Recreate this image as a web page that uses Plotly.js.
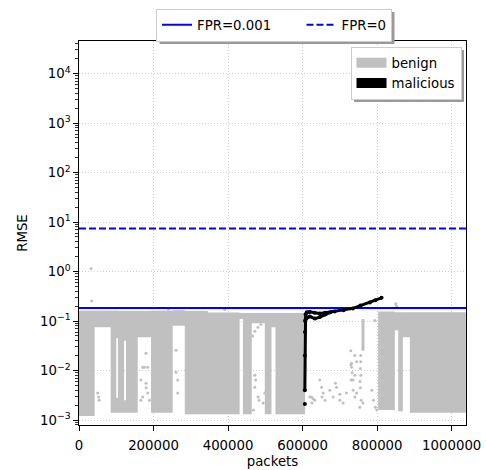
<!DOCTYPE html>
<html><head><meta charset="utf-8">
<script src="https://cdn.plot.ly/plotly-3.0.1.min.js"></script>
<style>body{margin:0;background:#fff}</style></head>
<body><div id="chart" style="width:486px;height:470px"></div>
<script>
// Benign RMSE envelope: packet range and RMSE low/high of each dense block
const benignX0 = [0, 42000, 85000, 100000, 100000, 104500, 121000, 121000, 126000, 157600, 193300, 251500, 283800, 345500, 431000, 440000, 463600, 498500, 516500, 527200, 758000, 802700, 847500, 856400, 869000, 887800];
const benignX1 = [42000, 85000, 100000, 104500, 104500, 121000, 126000, 126000, 157600, 193300, 251500, 283800, 345500, 431000, 440000, 463600, 498500, 516500, 527200, 606500, 766000, 847500, 856400, 869000, 887800, 1038000];
const benignLo = [0.0012, 0.075, 0.0014, 0.045, 0.0014, 0.0014, 0.04, 0.0014, 0.0014, 0.047, 0.0014, 0.08, 0.0013, 0.0013, 0.11, 0.0013, 0.09, 0.0013, 0.075, 0.0013, 0.025, 0.0016, 0.065, 0.0015, 0.047, 0.0014];
const benignHi = [0.162, 0.162, 0.162, 0.162, 0.0028, 0.16, 0.16, 0.0025, 0.16, 0.16, 0.162, 0.165, 0.16, 0.148, 0.145, 0.145, 0.145, 0.145, 0.145, 0.145, 0.11, 0.155, 0.15, 0.15, 0.15, 0.15];

// Isolated benign points
const sparseX = [32200, 34100, 50200, 52900, 54000,
  179900, 171000, 176000, 184400, 166400, 179900, 180000, 184400, 171000, 189000, 166000,
  260400, 260400, 265000, 265000,
  466000, 472000, 480000, 488000, 471700, 474000, 471700, 480500, 483000, 494000, 498500, 468000,
  619300, 623900, 628200, 632700, 625000, 646200, 650700, 655000, 652000, 660000, 673000, 681900, 688000, 691000, 699900, 700000, 708700, 717800,
  729400, 729400, 730000, 731300, 731300, 733000, 735600, 735600, 740100, 740100, 745000, 740000, 745000,
  756000, 756000, 755000, 756000, 754000, 755000, 753500, 757000, 762000,
  785800, 790000, 793800, 795000, 799200, 850000, 852000, 391000, 240000];
const sparseY = [1.15, 0.253, 0.0035, 0.0029, 0.0025,
  0.0223, 0.0117, 0.0117, 0.0117, 0.0064, 0.0055, 0.0045, 0.0035, 0.0029, 0.0025, 0.0025,
  0.0256, 0.0092, 0.0064, 0.0035,
  0.05, 0.062, 0.075, 0.085, 0.008, 0.0064, 0.0046, 0.0029, 0.0025, 0.0022, 0.0035, 0.0016,
  0.0029, 0.0029, 0.0027, 0.0025, 0.0022, 0.0064, 0.0046, 0.0035, 0.0029, 0.0025, 0.004, 0.0029, 0.0055, 0.0046, 0.0025, 0.0033, 0.0022, 0.0035,
  0.025, 0.013, 0.0064, 0.014, 0.0117, 0.009, 0.0064, 0.004, 0.008, 0.0029, 0.0035, 0.02, 0.015,
  0.02, 0.015, 0.011, 0.008, 0.006, 0.0045, 0.0018, 0.0025, 0.0022,
  0.004, 0.0025, 0.103, 0.0018, 0.0016, 0.224, 0.2, 0.17, 0.175];

// Malicious RMSE trace (null = break between strands)
const malX = [606000, null,
  606000, 606000, 606300, 606700, 608000, 611000, 619000, 632000, 646000, 660000, 686000, 710000, 734800, 755000, 780400, 795000, 811800, null,
  607500, 613000, 619300, 632700, 646200, 659600, 675000];
const malY = [0.0021, null,
  0.004, 0.02, 0.06, 0.10, 0.135, 0.150, 0.153, 0.147, 0.142, 0.147, 0.156, 0.165, 0.180, 0.205, 0.238, 0.262, 0.294, null,
  0.105, 0.118, 0.124, 0.112, 0.120, 0.135, 0.150];

// Thresholds
const fprLabels = ['FPR=0.001', 'FPR=0'];
const fprValues = [0.183, 7.4];
const fprDash = ['solid', '7px,3px'];

const xMax = 1038400;
const xTickVals = [0, 200000, 400000, 600000, 800000, 1000000];
const xTickText = ['0', '200000', '400000', '600000', '800000', '1000000'];
const yTickVals = [0.001, 0.01, 0.1, 1, 10, 100, 1000, 10000];
const yTickText = ['10<sup>−3</sup>', '10<sup>−2</sup>', '10<sup>−1</sup>', '10<sup>0</sup>', '10<sup>1</sup>', '10<sup>2</sup>', '10<sup>3</sup>', '10<sup>4</sup>'];

const GRAY = '#c0c0c0';
const FONT = 'DejaVu Sans';

const polyX = [], polyY = [];
for (let i = 0; i < benignX0.length; i++) {
  polyX.push(benignX0[i], benignX1[i], benignX1[i], benignX0[i], benignX0[i], null);
  polyY.push(benignLo[i], benignLo[i], benignHi[i], benignHi[i], benignLo[i], null);
}

const traces = [
  {x: polyX, y: polyY, type: 'scatter', mode: 'lines', fill: 'toself', fillcolor: GRAY,
   line: {width: 0, color: GRAY}, showlegend: false, hoverinfo: 'skip'},
  {x: sparseX, y: sparseY, type: 'scatter', mode: 'markers',
   marker: {size: 3, color: GRAY}, showlegend: false, hoverinfo: 'skip'}
];
// pad the first entry so the two horizontal entries are spaced like the original
const fprPad = ['\u00a0'.repeat(6), ''];
fprValues.forEach((v, i) => {
  traces.push({x: [0, xMax], y: [v, v], type: 'scatter', mode: 'lines', name: fprLabels[i] + fprPad[i],
    line: {color: '#0000ff', width: 2, dash: fprDash[i]}, legend: 'legend'});
});
traces.push({x: malX, y: malY, type: 'scatter', mode: 'lines+markers',
  line: {color: '#000', width: 3}, marker: {size: 4, color: '#000'}, showlegend: false});
traces.push({x: [null], y: [null], type: 'scatter', mode: 'lines', name: 'benign',
  line: {color: GRAY, width: 10}, legend: 'legend2'});
traces.push({x: [null], y: [null], type: 'scatter', mode: 'lines', name: 'malicious',
  line: {color: '#000', width: 10}, legend: 'legend2'});

const axisCommon = {
  showline: true, linecolor: '#000', linewidth: 1, mirror: true,
  ticks: 'outside', ticklen: 4.7, tickwidth: 1, tickcolor: '#000',
  showgrid: true, gridcolor: '#cfcfcf', griddash: '1px,2px', gridwidth: 1,
  zeroline: false, tickfont: {family: FONT, size: 13.3, color: '#000'}
};

const layout = {
  width: 486, height: 470,
  margin: {l: 79, r: 20, t: 41, b: 45, autoexpand: false},
  paper_bgcolor: '#fff', plot_bgcolor: '#fff',
  font: {family: FONT, size: 13.3, color: '#000'},
  xaxis: Object.assign({}, axisCommon, {
    range: [0, xMax], tickmode: 'array', tickvals: xTickVals, ticktext: xTickText,
    ticklabelstandoff: 3, automargin: false,
    title: {text: 'packets', font: {family: FONT, size: 13.3}, standoff: 5}
  }),
  yaxis: Object.assign({}, axisCommon, {
    type: 'log', range: [-3.101, 4.658], tickmode: 'array', tickvals: yTickVals, ticktext: yTickText,
    automargin: false,
    minor: {dtick: 'D1', ticks: 'outside', ticklen: 2.7, tickcolor: '#000', tickwidth: 0.8, showgrid: false},
    title: {text: 'RMSE', font: {family: FONT, size: 13.3}, standoff: 9}
  }),
  legend: {orientation: 'h', x: 0.5, xanchor: 'center', y: 1.09, yanchor: 'top',
    bgcolor: '#fff', bordercolor: '#cccccc', borderwidth: 1,
    font: {family: FONT, size: 13.3}},
  legend2: {orientation: 'v', x: 0.987, xanchor: 'right', y: 0.99, yanchor: 'top',
    bgcolor: '#fff', bordercolor: '#cccccc', borderwidth: 1,
    font: {family: FONT, size: 13.3}},
  showlegend: true
};

function legendBoxes(gd) {
  const g = gd.getBoundingClientRect();
  const out = [];
  gd.querySelectorAll('.infolayer > g').forEach(n => {
    const bg = n.querySelector(':scope > rect.bg');
    if (!bg) return;
    const r = bg.getBoundingClientRect();
    out.push({left: r.left - g.left, right: r.right - g.left, top: r.top - g.top, bottom: r.bottom - g.top});
  });
  return out;
}

Plotly.newPlot('chart', traces, layout, {displayModeBar: false, staticPlot: true}).then(gd => {
  const sz = gd._fullLayout._size;
  const upd = {};
  legendBoxes(gd).forEach(b => {
    const wide = (b.right - b.left) > 180;
    if (wide) {
      const dx = 274 - (b.left + b.right) / 2, dy = 9 - b.top;
      upd['legend.x'] = layout.legend.x + dx / sz.w;
      upd['legend.y'] = layout.legend.y - dy / sz.h;
    } else {
      const dx = 461 - b.right, dy = 47 - b.top;
      upd['legend2.x'] = layout.legend2.x + dx / sz.w;
      upd['legend2.y'] = layout.legend2.y - dy / sz.h;
    }
  });
  return Plotly.relayout(gd, upd);
}).then(gd => {
  const sz = gd._fullLayout._size;
  const off = 3;
  const shapes = legendBoxes(gd).map(b => ({
    type: 'rect', xref: 'paper', yref: 'paper',
    x0: (b.left + off - sz.l) / sz.w, x1: (b.right + off - sz.l) / sz.w,
    y0: 1 - (b.bottom + off - sz.t) / sz.h, y1: 1 - (b.top + off - sz.t) / sz.h,
    fillcolor: '#9a9a9a', line: {width: 0}, layer: 'above'}));
  return Plotly.relayout(gd, {shapes});
});
</script>
</body></html>
